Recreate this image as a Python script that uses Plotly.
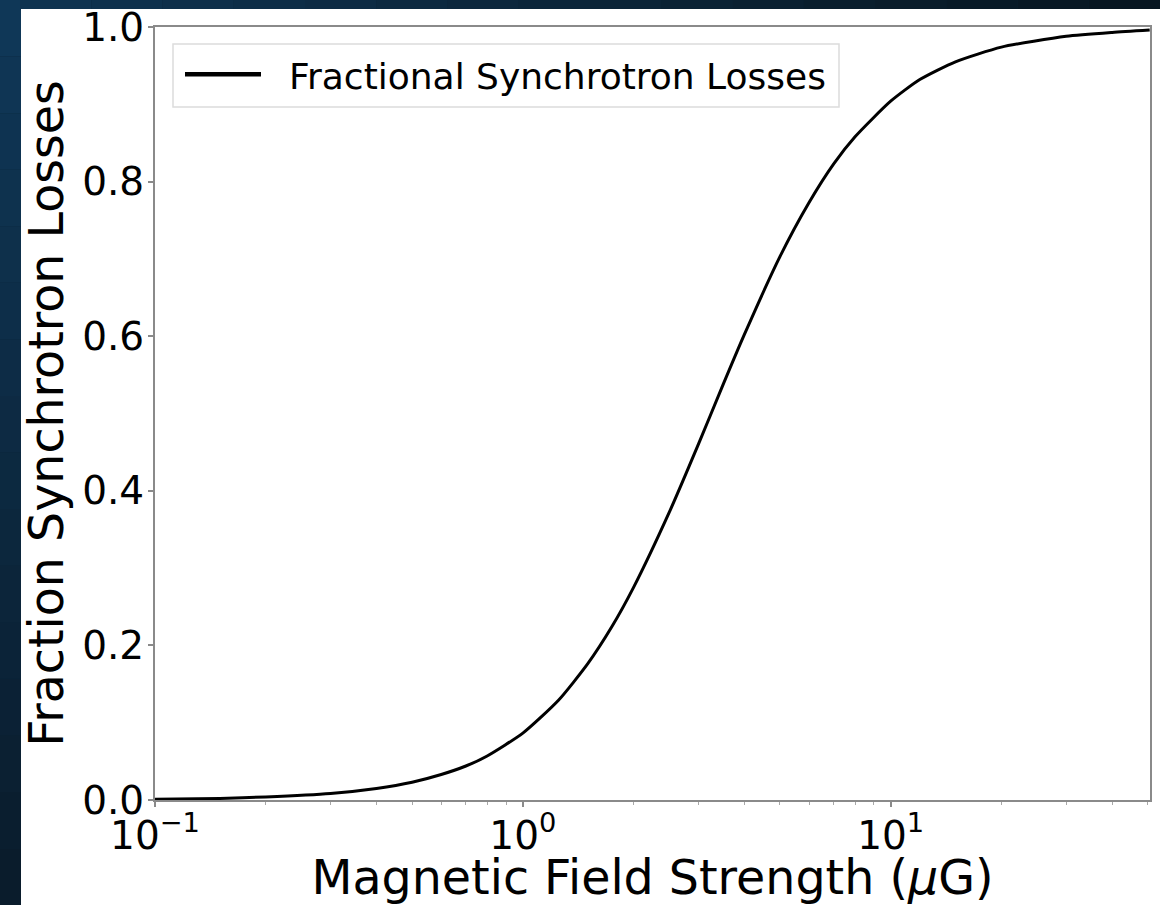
import plotly.graph_objects as go

# ---- data ----
field_uG = [0.1, 0.15, 0.2, 0.3, 0.4, 0.5, 0.6, 0.7, 0.8, 1.0, 1.25, 1.5, 1.75, 2.0,
            2.5, 3.0, 3.5, 4.0, 5.0, 6.0, 7.0, 8.0, 10, 12, 15, 20, 30, 40, 50.6]
frac_losses = [0.001, 0.002, 0.004, 0.0085, 0.015, 0.023, 0.033, 0.044, 0.057, 0.0865,
               0.129, 0.176, 0.225, 0.275, 0.372, 0.460, 0.537, 0.602, 0.703, 0.773,
               0.823, 0.858, 0.904, 0.932, 0.955, 0.974, 0.988, 0.993, 0.996]
series_name = "Fractional Synchrotron Losses"
x_tickvals = [0.1, 1, 10]
x_ticktext = ["10<sup>−1</sup>", "10<sup>0</sup>", "10<sup>1</sup>"]
x_minor_tickvals = [0.2, 0.3, 0.4, 0.5, 0.6, 0.7, 0.8, 0.9,
                    2, 3, 4, 5, 6, 7, 8, 9, 20, 30, 40, 50]
y_tickvals = [0.0, 0.2, 0.4, 0.6, 0.8, 1.0]
y_ticktext = ["0.0", "0.2", "0.4", "0.6", "0.8", "1.0"]

# ---- layout geometry ----
W, H = 1160, 905
ML, MR, MT, MB = 155, 10, 27, 105
PW, PH = W - ML - MR, H - MT - MB


def px_x(px):
    return (px - ML) / PW


def px_y(py):
    return (H - MB - py) / PH


def hexmix(c1, c2, t):
    a = [int(c1[i:i + 2], 16) for i in (1, 3, 5)]
    b = [int(c2[i:i + 2], 16) for i in (1, 3, 5)]
    return "#%02x%02x%02x" % tuple(round(a[k] + (b[k] - a[k]) * t) for k in range(3))


FONT = "DejaVu Sans"
AXIS_COL = "#8a8a8a"
NBSP = "\u00a0"

fig = go.Figure()
fig.add_trace(go.Scatter(
    x=field_uG, y=frac_losses, mode="lines", name=NBSP * 2 + series_name,
    line=dict(color="black", width=3, shape="spline", smoothing=0.6),
))

shapes = []
# dark gradient frame (left strip and top strip)
n = 16
for i in range(n):
    y0 = i * H / n
    y1 = (i + 1) * H / n
    shapes.append(dict(type="rect", xref="paper", yref="paper", layer="below",
                       x0=px_x(0), x1=px_x(22), y0=px_y(y1), y1=px_y(y0),
                       fillcolor=hexmix("#0f3858", "#0a1b2b", (i + 0.5) / n),
                       line=dict(width=0)))
for i in range(n):
    x0 = 20 + i * (W - 20) / n
    x1 = 20 + (i + 1) * (W - 20) / n
    shapes.append(dict(type="rect", xref="paper", yref="paper", layer="below",
                       x0=px_x(x0), x1=px_x(x1), y0=px_y(10), y1=px_y(0),
                       fillcolor=hexmix("#0f3452", "#07151f", (i + 0.5) / n),
                       line=dict(width=0)))
# white figure panel
shapes.append(dict(type="rect", xref="paper", yref="paper", layer="below",
                   x0=px_x(21), x1=px_x(W + 5), y0=px_y(H + 5), y1=px_y(9),
                   fillcolor="white", line=dict(width=0)))
# legend frame and longer line sample
shapes.append(dict(type="rect", xref="paper", yref="paper", layer="above",
                   x0=px_x(173), x1=px_x(839), y0=px_y(107), y1=px_y(44),
                   fillcolor="white", line=dict(color="#dcdcdc", width=1.5)))
shapes.append(dict(type="line", xref="paper", yref="paper", layer="above",
                   x0=px_x(185), x1=px_x(261), y0=px_y(73.5), y1=px_y(73.5),
                   line=dict(color="black", width=3)))

fig.update_layout(
    width=W, height=H,
    margin=dict(l=ML, r=MR, t=MT, b=MB, autoexpand=False),
    paper_bgcolor="#0b2538",
    plot_bgcolor="white",
    font=dict(family=FONT, color="black", size=39),
    shapes=shapes,
    showlegend=True,
    legend=dict(x=px_x(180), y=px_y(45), xanchor="left", yanchor="top",
                bgcolor="rgba(0,0,0,0)", borderwidth=0,
                font=dict(family=FONT, size=36, color="black"),
                itemwidth=76),
)

fig.update_xaxes(
    type="log", range=[-1, 1.705],
    tickvals=x_tickvals, ticktext=x_ticktext,
    tickfont=dict(family=FONT, size=39, color="black"),
    ticks="outside", ticklen=5, tickwidth=1.5, tickcolor=AXIS_COL,
    ticklabelstandoff=-5,
    minor=dict(tickmode="array", tickvals=x_minor_tickvals, ticks="outside",
               ticklen=3, tickwidth=1, tickcolor="#a8a8a8", showgrid=False),
    showline=True, linecolor=AXIS_COL, linewidth=2, mirror=True,
    showgrid=False, zeroline=False,
    title=dict(text="Magnetic Field Strength (<i>μ</i>G)",
               font=dict(family=FONT, size=47.5, color="black"), standoff=3),
)
fig.update_yaxes(
    range=[0, 1],
    tickvals=y_tickvals, ticktext=y_ticktext,
    tickfont=dict(family=FONT, size=39, color="black"),
    ticks="outside", ticklen=5, tickwidth=1.5, tickcolor=AXIS_COL,
    ticklabelstandoff=-4,
    showline=True, linecolor=AXIS_COL, linewidth=2, mirror=True,
    showgrid=False, zeroline=False,
    title=dict(text="Fraction Synchrotron Losses",
               font=dict(family=FONT, size=47.5, color="black"), standoff=4),
)

fig.write_html("out.html")
